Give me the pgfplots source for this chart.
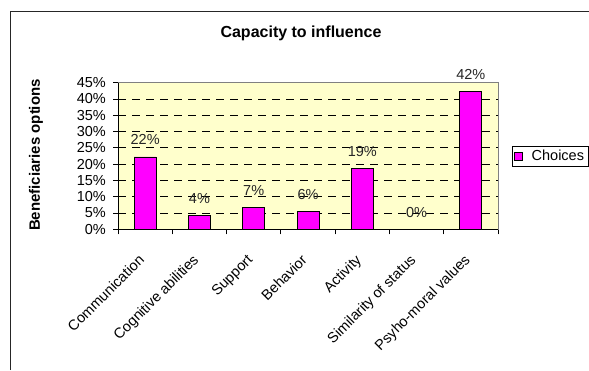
\documentclass[border=0pt]{standalone}
\usepackage{fontspec}
\setmainfont{Liberation Sans}
\usepackage{pgfplots}
\pgfplotsset{compat=1.18}
\definecolor{bgyellow}{HTML}{FFFFCC}
\definecolor{barmag}{HTML}{FF00FF}
\begin{document}
\begin{tikzpicture}[x=1bp,y=1bp]
\useasboundingbox (0,0) rectangle (589,370);
\draw[line width=1bp, black!85] (10.7,0) -- (10.7,358.3) -- (589,358.3);
\begin{axis}[
  at={(118bp,140.7bp)}, anchor=south west,
  scale only axis, width=380bp, height=146.6bp,
  xmin=-0.5, xmax=6.5, ymin=0, ymax=45,
  clip=false,
  axis background/.style={fill=bgyellow},
  axis line style={gray, line width=0.9bp},
  xtick={-0.14,0.86,1.86,2.86,3.86,4.86,5.86},
  xticklabels={Communication,Cognitive abilities,Support,Behavior,Activity,Similarity of status,Psyho-moral values},
  major x tick style={draw=none},
  minor xtick={-0.5,0.5,1.5,2.5,3.5,4.5,5.5,6.5},
  minor tick length=5bp,
  minor x tick style={black, line width=0.9bp},
  ytick={0,5,...,45},
  yticklabel={\pgfmathprintnumber{\tick}\%},
  major y tick style={black, line width=0.9bp},
  major tick length=5bp,
  tick align=outside,
  xtick pos=left, ytick pos=left,
  /pgf/number format/assume math mode=true,
  ticklabel style={font=\fontsize{14.5bp}{16bp}\selectfont},
  yticklabel style={inner sep=0pt, xshift=-7bp},
  xticklabel shift=19bp,
  xticklabel style={inner sep=0pt, rotate=45, anchor=north east},
  ymajorgrids,
  grid style={black, line width=0.8bp, dash pattern=on 8bp off 6bp},
  ybar, bar width=22bp,
  nodes near coords={\pgfmathprintnumber[fixed,precision=0]{\pgfplotspointmeta}\%},
  nodes near coords style={anchor=base, inner sep=0pt, yshift=12bp, font=\fontsize{14.5bp}{16bp}\selectfont, black!85},
  legend style={at={(1.036,0.5)}, anchor=west, draw=black, fill=white, line width=0.6bp,
    font=\fontsize{14.5bp}{16bp}\selectfont, inner xsep=2bp, inner ysep=2bp},
  legend image code/.code={\draw[fill=barmag, draw=black, line width=0.6bp] (0bp,-4bp) rectangle (8bp,4bp); \path (15bp,0bp);},
]
\addplot[fill=barmag, draw=black, line width=0.8bp] coordinates {
  (0,22.2) (1,4.3) (2,6.7) (3,5.6) (4,18.7) (5,0) (6,42.3)
};
\addlegendentry{Choices}
\draw[black, line width=0.9bp] (rel axis cs:0,1) -- (rel axis cs:0,0) -- (rel axis cs:1,0);
\end{axis}
\node[font=\bfseries\fontsize{16bp}{18bp}\selectfont] at (301,337) {Capacity to influence};
\node[font=\bfseries\fontsize{15bp}{17bp}\selectfont, rotate=90] at (36,215) {Beneficiaries options};
\end{tikzpicture}
\end{document}
